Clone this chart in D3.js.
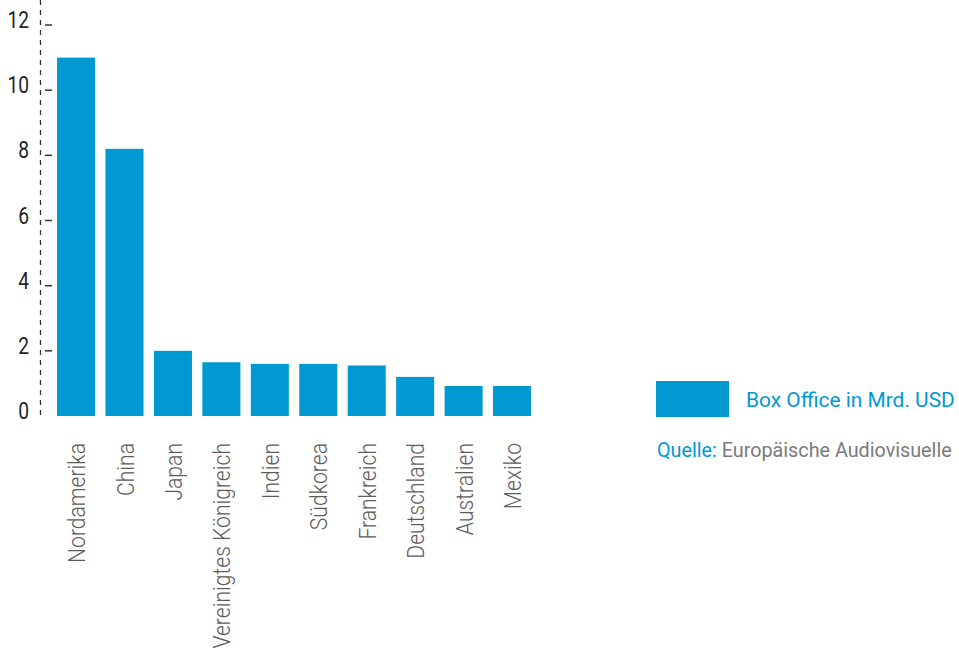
<!DOCTYPE html>
<html><head><meta charset="utf-8">
<script src="https://cdn.jsdelivr.net/npm/d3@7"></script>
<style>body{margin:0;background:#fff}svg{display:block}text{font-family:Roboto,"Noto Sans",sans-serif}</style>
</head><body>
<svg id="c" width="959" height="660"></svg>
<script>
const categories = ["Nordamerika","China","Japan","Vereinigtes Königreich","Indien","Südkorea","Frankreich","Deutschland","Australien","Mexiko"];
const values = [11.0, 8.2, 2.0, 1.65, 1.6, 1.6, 1.55, 1.2, 0.92, 0.92];
const yTicks = [0, 2, 4, 6, 8, 10, 12];
const seriesName = "Box Office in Mrd. USD";
const sourceLabel = "Quelle:";
const sourceText = "Europäische Audiovisuelle";

const BLUE = "#0099d2";
const svg = d3.select("#c");
const x = d3.scaleBand().domain(categories).range([52.2, 535.9]).paddingInner(0.215).paddingOuter(0.1);
const y = d3.scaleLinear().domain([0, 12]).range([416, 25]);

// dashed axis line
svg.append("line").attr("x1", 40.5).attr("x2", 40.5).attr("y1", 0).attr("y2", y(0))
  .attr("stroke", "#333").attr("stroke-width", 1.3).attr("stroke-dasharray", "5,5");

// ticks & labels
const yAxis = svg.append("g");
yTicks.forEach(t => {
  if (t !== 0) yAxis.append("line").attr("x1", 45).attr("x2", 52).attr("y1", y(t)).attr("y2", y(t))
    .attr("stroke", "#333").attr("stroke-width", 1.5);
  yAxis.append("text").text(t).attr("font-size", 24).attr("font-weight", 400)
    .attr("fill", "#252525").attr("text-anchor", "end")
    .attr("transform", `translate(29,${y(t) + 3}) scale(0.8,1)`);
});

// bars
svg.append("g").selectAll("rect").data(values).join("rect")
  .attr("x", (d, i) => x(categories[i])).attr("width", x.bandwidth())
  .attr("y", d => y(d)).attr("height", d => y(0) - y(d)).attr("fill", BLUE);

// x labels
const xl = svg.append("g").selectAll("text").data(categories).join("text")
  .text(d => d).attr("font-size", 23).attr("font-weight", 300).attr("fill", "#5c5c5c")
  .attr("text-anchor", "end").attr("dy", 9);
const nlen = xl.nodes()[0].getComputedTextLength();
const f = 120 / nlen;
xl.attr("transform", d => `translate(${x(d) + x.bandwidth() / 2},443) rotate(-90) scale(${f},1)`);

// legend
svg.append("rect").attr("x", 656).attr("y", 381).attr("width", 73).attr("height", 36).attr("fill", BLUE);
const lt = svg.append("text").text(seriesName).attr("font-size", 21).attr("fill", BLUE);
const lf = 209 / lt.node().getComputedTextLength();
lt.attr("transform", `translate(746,406.5) scale(${lf},1)`);

const st = svg.append("text").attr("font-size", 21);
st.append("tspan").text(sourceLabel + " ").attr("fill", BLUE);
st.append("tspan").text(sourceText).attr("fill", "#7a7a7a");
const sf = 295 / st.node().getComputedTextLength();
st.attr("transform", `translate(657,457) scale(${sf},1)`);
</script>
</body></html>
